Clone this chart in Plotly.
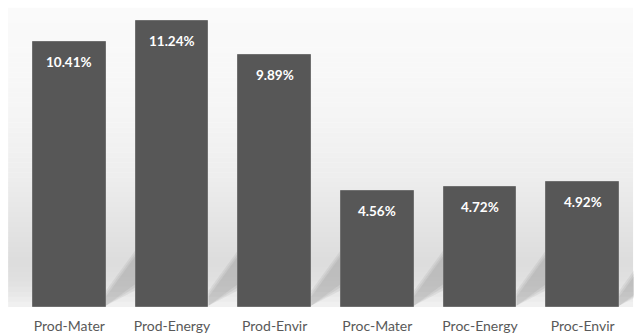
import plotly.graph_objects as go

categories = ["Prod-Mater", "Prod-Energy", "Prod-Envir", "Proc-Mater", "Proc-Energy", "Proc-Envir"]
values = [10.41, 11.24, 9.89, 4.56, 4.72, 4.92]
value_labels = ["10.41%", "11.24%", "9.89%", "4.56%", "4.72%", "4.92%"]

x_pos = list(range(len(categories)))
BAR_W = 0.71

fig = go.Figure()
fig.add_trace(go.Bar(
    x=x_pos, y=values, width=BAR_W,
    marker=dict(color="#575757", line=dict(color="#707070", width=1)),
    hoverinfo="skip",
))

shapes = []
# background gradient (style only)
stops = [(0.0, 250), (0.2, 248), (0.35, 245), (0.55, 238), (0.72, 228), (0.85, 220), (0.93, 226), (1.0, 242)]
n = 60
for i in range(n):
    t0 = i / n
    t1 = (i + 1) / n
    tm = (t0 + t1) / 2
    for (a, ca), (b, cb) in zip(stops[:-1], stops[1:]):
        if a <= tm <= b:
            c = int(round(ca + (cb - ca) * (tm - a) / (b - a)))
            break
    shapes.append(dict(type="rect", xref="paper", yref="paper",
                       x0=-0.016, x1=0.9985, y0=1 - t1, y1=1 - t0 + 0.001,
                       fillcolor=f"rgb({c},{c},{c})", line=dict(width=0), layer="below"))

# soft diagonal shadows to the right of each bar
for xi in x_pos:
    xr = xi + BAR_W / 2
    for k, op in enumerate([0.07, 0.07, 0.07]):
        d = 0.12 * k
        path = (f"M {xr} {0.4 + d} L {xr + 0.29} {2.0 + d} "
                f"L {xr + 0.29} {0.9 - d} L {xr} {0.05} Z")
        shapes.append(dict(type="path", xref="x", yref="y", path=path,
                           fillcolor=f"rgba(60,60,60,{op})", line=dict(width=0), layer="below"))

annotations = []
for xi, v, lab in zip(x_pos, values, value_labels):
    annotations.append(dict(x=xi, y=v, xref="x", yref="y", text=lab, showarrow=False,
                            yshift=-20, font=dict(family="Lato", size=13.5, color="white", weight="bold")))

fig.update_layout(
    width=641, height=335,
    margin=dict(l=18, r=7, t=8, b=28),
    paper_bgcolor="white", plot_bgcolor="rgba(0,0,0,0)",
    showlegend=False,
    shapes=shapes, annotations=annotations,
    xaxis=dict(range=[-0.5, 5.5], tickvals=x_pos, ticktext=categories, showgrid=False,
               zeroline=False, showline=False, ticks="", automargin=False,
               tickfont=dict(family="Lato", size=14, color="#595959"), ticklabelstandoff=9),
    yaxis=dict(range=[0, 11.75], visible=False, showgrid=False, automargin=False),
    bargap=0,
)
fig.write_html("out.html")
